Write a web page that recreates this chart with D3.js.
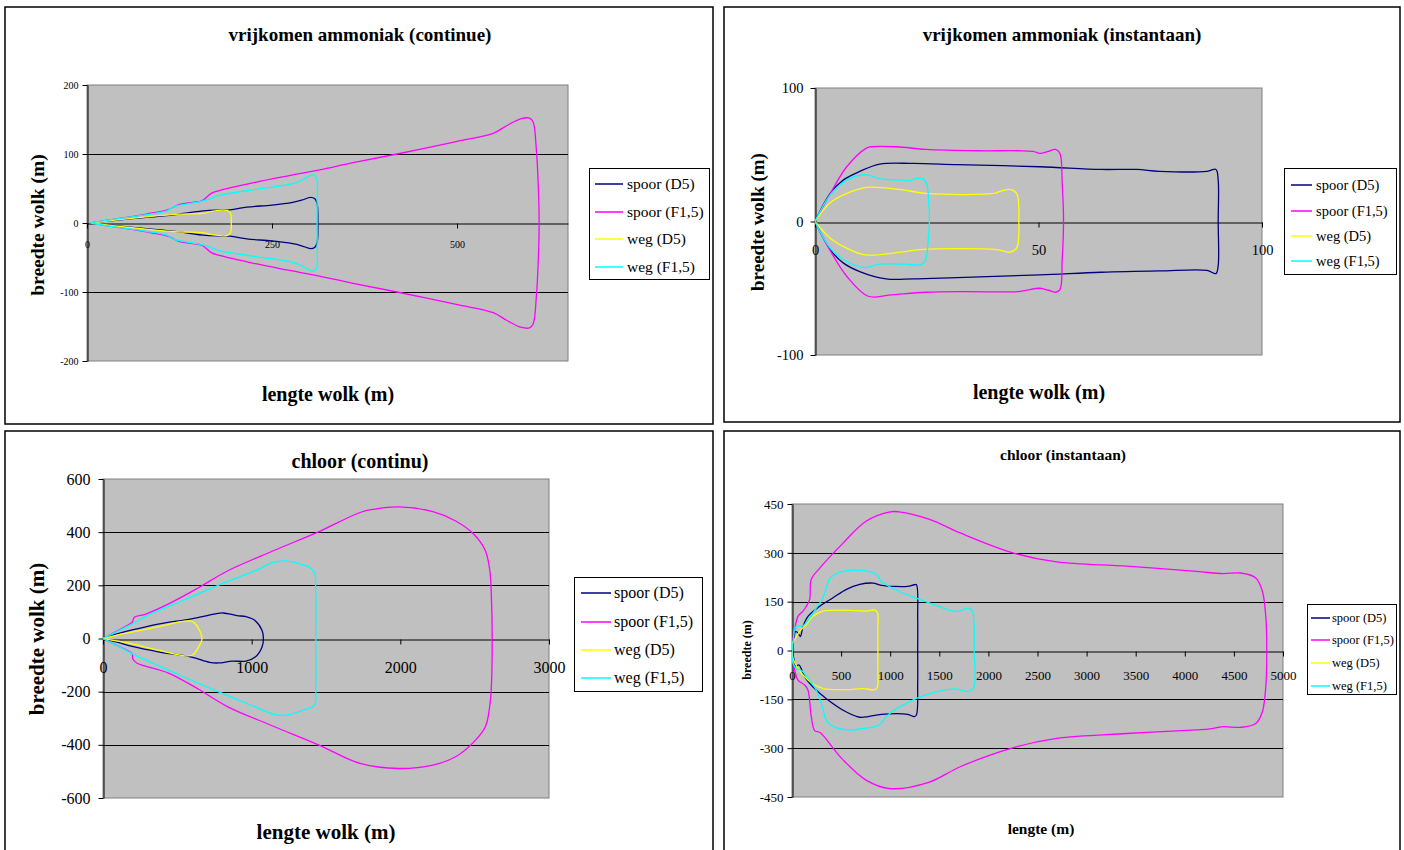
<!DOCTYPE html>
<html>
<head>
<meta charset="utf-8">
<script src="https://cdn.jsdelivr.net/npm/d3@7"></script>
<style>
  body { margin: 0; background: #fff; }
  svg text { font-family: "Liberation Serif", "Times New Roman", serif; fill: #000; }
</style>
</head>
<body>
<svg id="chart" width="1404" height="850"></svg>
<script>
// ---------- shared legend ----------
const seriesNames  = ["spoor (D5)", "spoor (F1,5)", "weg (D5)", "weg (F1,5)"];
const seriesColors = ["#000080", "#ff00ff", "#ffff00", "#00ffff"];

// ---------- vrijkomen ammoniak (continue): [lengte, breedte] ----------
const ammContXTicks = [0, 250, 500];
const ammContYTicks = [-200, -100, 0, 100, 200];
const ammContSpoorD5 = [[5,0],[30,3],[58,6],[100,10],[125,13],[161,18],[193,19],[216,23],[250,26],[278,30],[290,33],[302,37],[308,35],[311,28],[312,10],[312,0],
  [312,-10],[311,-28],[308,-35],[302,-37],[290,-33],[278,-30],[250,-26],[216,-23],[193,-19],[161,-18],[125,-13],[100,-10],[58,-6],[30,-3],[5,0]];
const ammContSpoorF15 = [[5,0],[40,6],[80,13],[109,19],[125,27],[143,30],[155,32],[168,43],[179,47],[228,59],[270,68],[314,77],[358,87],[419,100],[499,118],[549,130],[567,141],[586,151],[598,152],[603,146],[607,110],[610,50],[611,0],
  [610,-50],[607,-110],[603,-146],[598,-152],[586,-151],[567,-141],[549,-130],[499,-118],[419,-100],[358,-87],[314,-77],[270,-68],[228,-59],[179,-47],[168,-43],[155,-32],[143,-30],[125,-27],[109,-19],[80,-13],[40,-6],[5,0]];
const ammContWegD5 = [[5,0],[35,4],[80,9],[125,13],[157,14],[168,17],[190,18],[194,14],[195,5],[195,0],
  [195,-5],[194,-14],[190,-18],[168,-17],[157,-14],[125,-13],[80,-9],[35,-4],[5,0]];
const ammContWegF15 = [[5,0],[40,6],[80,12],[109,18],[116,23],[143,29],[161,33],[179,40],[230,49],[278,57],[292,63],[305,70],[310,66],[311,30],[311,0],
  [311,-30],[310,-66],[305,-70],[292,-63],[278,-57],[230,-49],[179,-40],[161,-33],[143,-29],[116,-23],[109,-18],[80,-12],[40,-6],[5,0]];

// ---------- vrijkomen ammoniak (instantaan) ----------
const ammInstXTicks = [0, 50, 100];
const ammInstYTicks = [-100, 0, 100];
const ammInstSpoorD5 = [[0,0],[3.4,21],[6.3,31],[10,37.5],[14.5,43],[22,43.5],[31.7,42.6],[50.3,41],[64,39],[72,39],[77,37.6],[87.7,37.6],[89.7,39],[90.2,31],[90.2,0],
  [90.2,-33],[89.7,-39],[87.7,-36.6],[77,-37],[64,-38],[50.3,-40],[31.7,-42],[22,-43],[15.9,-43],[10,-37.5],[6.3,-31],[3.4,-21],[0,0]];
const ammInstSpoorF15 = [[0,0],[3.1,19],[7.1,41],[11.5,55],[12.5,56],[18.3,56],[24.8,54],[36.6,53],[45.4,53],[48.8,52.5],[50.3,51],[52.2,52.5],[53.8,54],[54.8,51],[55.3,29],[55.6,0],
  [55.3,-29],[54.8,-51],[53.8,-53],[52.2,-51.5],[50.3,-50],[45.4,-52.5],[33.9,-52.5],[24.8,-53],[16.9,-55],[11.9,-56],[7.1,-41],[3.1,-20],[0,0]];
const ammInstWegD5 = [[0,0],[3.4,14],[7.1,21],[11.6,25.5],[19,24],[25,21],[39.9,21],[41.4,22.5],[43.6,24],[45.1,21],[45.6,10],[45.6,0],
  [45.6,-10],[45.1,-20],[43.6,-23],[40.6,-21],[23.5,-21],[19,-23],[11.2,-25],[7.1,-20],[3.4,-12.5],[0,0]];
const ammInstWegF15 = [[0,0],[3.4,20],[7.1,31],[11.5,35],[14.5,32],[19.8,31],[20.9,30.5],[23.5,32.5],[24.8,30],[25.5,11],[25.6,0],
  [25.4,-11],[24.6,-30],[23.5,-32.5],[20.5,-32],[14.5,-32],[11.2,-34.5],[7.1,-30],[3.4,-20],[0,0]];

// ---------- chloor (continu) ----------
const chlContXTicks = [0, 1000, 2000, 3000];
const chlContYTicks = [-600, -400, -200, 0, 200, 400, 600];
const chlContSpoorD5 = [[0,0],[100,18],[196,32],[380,55],[595,74],[748,92],[809,96],[901,86],[962,82],[1024,67],[1070,30],[1079,0],
  [1070,-32],[1024,-70],[962,-85],[870,-85],[778,-92],[717,-90],[595,-70],[380,-51],[196,-30],[100,-15],[0,0]];
const chlContSpoorF15 = [[0,0],[100,30],[196,61],[211,80],[288,92],[441,130],[640,190],[840,255],[1146,330],[1453,402],[1729,474],[1821,486],[1989,495],[2219,477],[2372,442],[2495,392],[2572,330],[2602,255],[2611,180],[2618,0],
  [2611,-195],[2600,-260],[2572,-332],[2495,-389],[2372,-445],[2219,-476],[1989,-489],[1729,-470],[1453,-401],[1146,-330],[840,-257],[640,-190],[441,-130],[227,-92],[200,-76],[196,-57],[100,-28],[0,0]];
const chlContWegD5 = [[0,0],[100,14],[196,24],[380,45],[595,65],[640,40],[665,5],[665,-5],[640,-35],[595,-64],[380,-45],[196,-20],[100,-10],[0,0]];
const chlContWegF15 = [[0,0],[100,28],[196,55],[319,92],[533,142],[778,201],[1024,255],[1146,286],[1223,292],[1330,280],[1391,267],[1422,249],[1431,180],[1431,0],
  [1431,-180],[1422,-251],[1345,-270],[1223,-289],[1146,-285],[1024,-257],[778,-201],[533,-142],[319,-89],[196,-57],[100,-28],[0,0]];

// ---------- chloor (instantaan) ----------
const chlInstXTicks = [0, 500, 1000, 1500, 2000, 2500, 3000, 3500, 4000, 4500, 5000];
const chlInstYTicks = [-450, -300, -150, 0, 150, 300, 450];
const chlInstSpoorD5 = [[0,0],[20,40],[37,59],[61,54],[85,43],[112,74],[163,105],[282,136],[418,162],[554,188],[690,203],[826,207],[910,200],[1178,197],[1244,202],[1267,202],[1280,100],[1280,0],
  [1280,-100],[1267,-198],[1244,-203],[1178,-196],[910,-196],[776,-203],[690,-205],[554,-189],[350,-148],[214,-112],[129,-81],[85,-50],[68,-44],[37,-48],[18,-24],[0,0]];
const chlInstSpoorF15 = [[0,0],[10,33],[27,64],[61,105],[112,121],[146,136],[180,157],[197,219],[285,254],[508,326],[754,397],[999,426],[1088,426],[1400,403],[1713,361],[2248,300],[2694,272],[3407,259],[4121,243],[4389,236],[4567,238],[4723,223],[4790,182],[4826,100],[4835,0],
  [4826,-106],[4790,-188],[4723,-224],[4567,-236],[4389,-234],[4255,-241],[4121,-244],[3407,-255],[2694,-270],[2248,-299],[1713,-357],[1400,-404],[999,-424],[754,-398],[508,-332],[285,-252],[231,-246],[197,-205],[163,-122],[129,-106],[61,-91],[27,-60],[10,-29],[0,0]];
const chlInstWegD5 = [[0,0],[8,25],[27,33],[78,59],[146,80],[214,105],[316,121],[554,124],[758,121],[843,124],[870,116],[874,60],[874,-60],[870,-112],[843,-120],[724,-117],[554,-120],[316,-117],[214,-103],[129,-81],[61,-55],[10,-24],[0,0]];
const chlInstWegF15 = [[0,0],[17,43],[27,69],[44,74],[112,76],[180,100],[248,131],[316,162],[350,193],[384,220],[464,238],[598,246],[776,243],[865,233],[910,213],[1088,182],[1267,161],[1490,136],[1668,120],[1802,130],[1838,120],[1855,0],
  [1847,-116],[1780,-126],[1668,-118],[1356,-137],[1133,-167],[977,-198],[888,-229],[732,-239],[575,-244],[418,-233],[350,-215],[316,-179],[248,-122],[180,-91],[112,-65],[44,-55],[10,-39],[0,0]];

// ---------- panel layout ----------
const panels = [
  { frame: [5, 7, 708, 417], plot: [87, 85, 568, 361], xDomain: [0, 650], yDomain: [-200, 200],
    xTicks: ammContXTicks, yTicks: ammContYTicks, tickFont: 10, xPad: 12, yPad: 4,
    series: [ammContSpoorD5, ammContSpoorF15, ammContWegD5, ammContWegF15],
    title: "vrijkomen ammoniak (continue)", titlePos: [360, 34], titleFont: 19,
    xLabel: "lengte wolk (m)", xLabelPos: [328, 394], xLabelFont: 20,
    yLabel: "breedte wolk (m)", yLabelPos: [37, 225], yLabelFont: 19.5,
    legend: { box: [589, 168, 120, 111], rows: [184, 212, 239, 267], line: [595, 623], textX: 627, font: 15.5 } },
  { frame: [724, 7, 676, 415], plot: [815, 88, 1262, 355], xDomain: [0, 100], yDomain: [-100, 100],
    xTicks: ammInstXTicks, yTicks: ammInstYTicks, tickFont: 14.5, xPad: 17, yPad: 7,
    series: [ammInstSpoorD5, ammInstSpoorF15, ammInstWegD5, ammInstWegF15],
    title: "vrijkomen ammoniak (instantaan)", titlePos: [1062, 34], titleFont: 19,
    xLabel: "lengte wolk (m)", xLabelPos: [1039, 392], xLabelFont: 20,
    yLabel: "breedte wolk (m)", yLabelPos: [757, 222], yLabelFont: 19,
    legend: { box: [1284, 168, 112, 106], rows: [185, 211, 236, 261], line: [1291, 1312], textX: 1316, font: 14.5 } },
  { frame: [5, 431, 708, 425], plot: [103, 479, 549, 798], xDomain: [0, 3000], yDomain: [-600, 600],
    xTicks: chlContXTicks, yTicks: chlContYTicks, tickFont: 16, xPad: 17, yPad: 8,
    series: [chlContSpoorD5, chlContSpoorF15, chlContWegD5, chlContWegF15],
    title: "chloor (continu)", titlePos: [360, 461], titleFont: 20,
    xLabel: "lengte wolk (m)", xLabelPos: [326, 832], xLabelFont: 21,
    yLabel: "breedte wolk (m)", yLabelPos: [37, 639], yLabelFont: 21,
    legend: { box: [574, 577, 128, 114], rows: [593, 622, 650, 678], line: [581, 611], textX: 614, font: 16 } },
  { frame: [724, 431, 676, 425], plot: [792, 504, 1283, 797], xDomain: [0, 5000], yDomain: [-450, 450],
    xTicks: chlInstXTicks, yTicks: chlInstYTicks, tickFont: 13, xPad: 14, yPad: 4,
    series: [chlInstSpoorD5, chlInstSpoorF15, chlInstWegD5, chlInstWegF15],
    title: "chloor (instantaan)", titlePos: [1063, 455], titleFont: 15.5,
    xLabel: "lengte (m)", xLabelPos: [1041, 829], xLabelFont: 15.5,
    yLabel: "breedte (m)", yLabelPos: [747, 650], yLabelFont: 12,
    legend: { box: [1307, 604, 89, 90], rows: [618, 640, 663, 686], line: [1311, 1330], textX: 1332, font: 12.5 } }
];

// plain hyphen-minus for negative tick values
const tickText = d => String(d);

const svg = d3.select("#chart");
svg.append("rect").attr("width", 1404).attr("height", 850).attr("fill", "#fff");

panels.forEach((p, i) => {
  const [px0, py0, px1, py1] = p.plot;
  const x = d3.scaleLinear().domain(p.xDomain).range([px0, px1]);
  const y = d3.scaleLinear().domain(p.yDomain).range([py1, py0]);
  const g = svg.append("g");

  // chart frame
  g.append("rect")
    .attr("x", p.frame[0]).attr("y", p.frame[1])
    .attr("width", p.frame[2]).attr("height", p.frame[3])
    .attr("fill", "#fff").attr("stroke", "#000").attr("stroke-width", 1.5);

  // plot area
  g.append("rect")
    .attr("x", px0).attr("y", py0).attr("width", px1 - px0).attr("height", py1 - py0)
    .attr("fill", "#c0c0c0").attr("stroke", "#808080").attr("stroke-width", 1);

  // horizontal gridlines at interior ticks
  g.selectAll(null).data(p.yTicks.filter(v => v !== p.yDomain[0] && v !== p.yDomain[1] && v !== 0))
    .join("line")
    .attr("x1", px0).attr("x2", px1)
    .attr("y1", d => Math.round(y(d)) + 0.5).attr("y2", d => Math.round(y(d)) + 0.5)
    .attr("stroke", "#000").attr("stroke-width", 1);

  // contours
  const clipId = "clip" + i;
  g.append("clipPath").attr("id", clipId)
    .append("rect").attr("x", px0).attr("y", py0).attr("width", px1 - px0).attr("height", py1 - py0);
  const line = d3.line().x(d => x(d[0])).y(d => y(d[1])).curve(d3.curveCatmullRom.alpha(0.5));

  // y axis on the left edge
  const yAxis = d3.axisLeft(y).tickValues(p.yTicks).tickSize(5).tickSizeOuter(0).tickPadding(p.yPad)
    .tickFormat(tickText);
  const ya = g.append("g").attr("transform", `translate(${px0 + 0.5},0)`).call(yAxis);

  // x axis along breedte = 0
  const xAxis = d3.axisBottom(x).tickValues(p.xTicks).tickSize(5).tickSizeOuter(0).tickPadding(p.xPad)
    .tickFormat(tickText);
  const xa = g.append("g").attr("transform", `translate(0,${Math.round(y(0)) + 0.5})`).call(xAxis);

  [ya, xa].forEach(a => {
    a.select(".domain").attr("stroke", "#000").attr("stroke-width", 1);
    a.selectAll(".tick line").attr("stroke", "#000");
    a.selectAll(".tick text")
      .style("font-family", '"Liberation Serif", serif')
      .style("font-size", p.tickFont + "px").attr("fill", "#000");
  });

  g.append("g").attr("clip-path", `url(#${clipId})`)
    .selectAll("path").data(p.series).join("path")
    .attr("d", line)
    .attr("fill", "none")
    .attr("stroke", (d, k) => seriesColors[k])
    .attr("stroke-width", 1.3);

  // title and axis labels
  g.append("text").attr("x", p.titlePos[0]).attr("y", p.titlePos[1]).attr("dy", "0.35em")
    .attr("text-anchor", "middle").style("font-size", p.titleFont + "px").style("font-weight", "bold")
    .text(p.title);
  g.append("text").attr("x", p.xLabelPos[0]).attr("y", p.xLabelPos[1]).attr("dy", "0.35em")
    .attr("text-anchor", "middle").style("font-size", p.xLabelFont + "px").style("font-weight", "bold")
    .text(p.xLabel);
  g.append("text")
    .attr("transform", `translate(${p.yLabelPos[0]},${p.yLabelPos[1]}) rotate(-90)`)
    .attr("dy", "0.35em").attr("text-anchor", "middle")
    .style("font-size", p.yLabelFont + "px").style("font-weight", "bold")
    .text(p.yLabel);

  // legend
  const L = p.legend;
  g.append("rect").attr("x", L.box[0] + 0.5).attr("y", L.box[1] + 0.5)
    .attr("width", L.box[2]).attr("height", L.box[3])
    .attr("fill", "#fff").attr("stroke", "#000").attr("stroke-width", 1);
  seriesNames.forEach((name, k) => {
    g.append("line").attr("x1", L.line[0]).attr("x2", L.line[1])
      .attr("y1", L.rows[k]).attr("y2", L.rows[k])
      .attr("stroke", seriesColors[k]).attr("stroke-width", 1.5);
    g.append("text").attr("x", L.textX).attr("y", L.rows[k]).attr("dy", "0.32em")
      .style("font-size", L.font + "px").text(name);
  });
});
</script>
</body>
</html>
